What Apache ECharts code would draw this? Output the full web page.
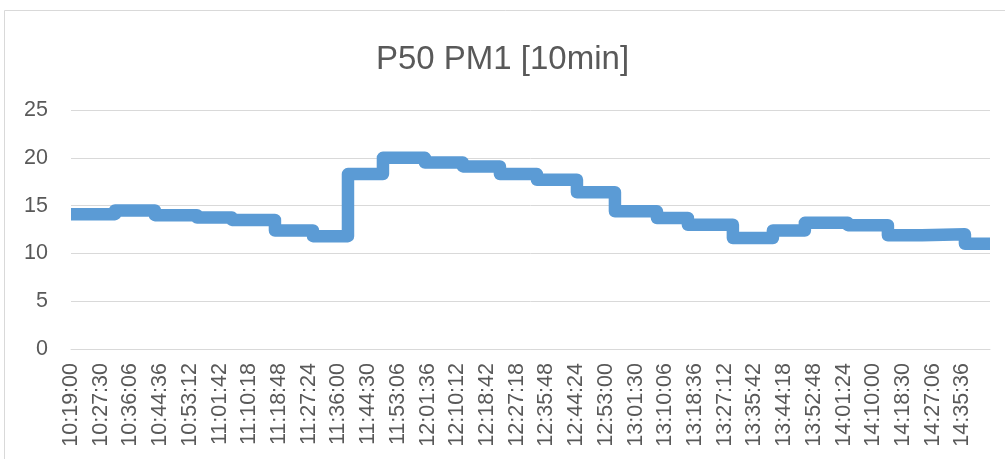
<!DOCTYPE html>
<html>
<head>
<meta charset="utf-8">
<script src="https://cdn.jsdelivr.net/npm/echarts@6/dist/echarts.min.js"></script>
<style>
  html, body { margin: 0; padding: 0; background: #ffffff; }
  #chart { width: 1005px; height: 459px; }
</style>
</head>
<body>
<div id="chart"></div>
<script>
// Category tick labels shown along the time axis (every 30th sample)
const tickLabels = [
  '10:19:00', '10:27:30', '10:36:06', '10:44:36', '10:53:12', '11:01:42',
  '11:10:18', '11:18:48', '11:27:24', '11:36:00', '11:44:30', '11:53:06',
  '12:01:36', '12:10:12', '12:18:42', '12:27:18', '12:35:48', '12:44:24',
  '12:53:00', '13:01:30', '13:10:06', '13:18:36', '13:27:12', '13:35:42',
  '13:44:18', '13:52:48', '14:01:24', '14:10:00', '14:18:30', '14:27:06',
  '14:35:36'
];

// Times at which each 10-minute median value takes effect
const stepStart = [
  '10:19:00', '10:31:40', '10:43:10', '10:55:16', '11:05:20', '11:17:42',
  '11:28:39', '11:38:43', '11:48:47', '12:00:52', '12:11:48', '12:22:27',
  '12:33:06', '12:44:37', '12:55:33', '13:07:39', '13:16:33', '13:29:30',
  '13:41:01', '13:50:13', '14:02:36', '14:14:07', '14:23:54', '14:36:17'
];

// P50 PM1 value held over each interval
const stepValue = [
  14.1, 14.5, 14.0, 13.75, 13.5, 12.4,
  11.8, 18.3, 20.0, 19.5, 19.1, 18.3,
  17.7, 16.4, 14.4, 13.7, 13.0, 11.6,
  12.4, 13.2, 12.95, 11.9, 12.0, 11.0
];

// Last sample time
const endTime = '14:43:30';

function toSec(t) {
  const p = t.split(':').map(Number);
  return p[0] * 3600 + p[1] * 60 + p[2];
}

const t0 = toSec(tickLabels[0]);
const tickStep = (toSec(tickLabels[tickLabels.length - 1]) - t0) / (tickLabels.length - 1);
const span = toSec(endTime) - t0;

const lineData = stepStart.map((t, i) => [toSec(t) - t0, stepValue[i]]);
lineData.push([span, stepValue[stepValue.length - 1]]);

const textColor = '#595959';
const gridColor = '#D9D9D9';
const fontFamily = '"Liberation Sans", Arial, sans-serif';

const chart = echarts.init(document.getElementById('chart'), null, { renderer: 'canvas' });

chart.setOption({
  animation: false,
  backgroundColor: '#ffffff',
  title: {
    text: 'P50 PM1 [10min]',
    left: 'center',
    top: 38,
    padding: [5, 5, 5, 23],
    textStyle: {
      color: textColor,
      fontFamily: fontFamily,
      fontSize: 33,
      fontWeight: 'normal'
    }
  },
  graphic: [{
    type: 'rect',
    silent: true,
    shape: { x: 4.5, y: 10.5, width: 1100, height: 600 },
    style: { fill: 'none', stroke: gridColor, lineWidth: 1 }
  }],
  grid: {
    left: 71,
    right: 15,
    top: 110,
    bottom: 110,
    containLabel: false
  },
  xAxis: {
    type: 'value',
    min: 0,
    max: span,
    interval: tickStep,
    axisLine: { show: true, lineStyle: { color: gridColor, width: 1 } },
    axisTick: { show: false },
    splitLine: { show: false },
    axisLabel: {
      rotate: 90,
      margin: 14,
      color: textColor,
      fontFamily: fontFamily,
      fontSize: 21.5,
      showMinLabel: true,
      showMaxLabel: true,
      hideOverlap: false,
      formatter: function (v) {
        const i = Math.round(v / tickStep);
        return (Math.abs(v - i * tickStep) < 1 && tickLabels[i]) ? tickLabels[i] : '';
      }
    }
  },
  yAxis: {
    type: 'value',
    min: 0,
    max: 25,
    interval: 5,
    axisLine: { show: false },
    axisTick: { show: false },
    splitLine: { show: true, lineStyle: { color: gridColor, width: 1 } },
    axisLabel: {
      margin: 23,
      color: textColor,
      fontFamily: fontFamily,
      fontSize: 21.5
    }
  },
  series: [{
    type: 'line',
    step: 'end',
    data: lineData,
    symbol: 'none',
    lineStyle: {
      color: '#5B9BD5',
      width: 12.5,
      cap: 'butt',
      join: 'round'
    }
  }]
});
</script>
</body>
</html>
